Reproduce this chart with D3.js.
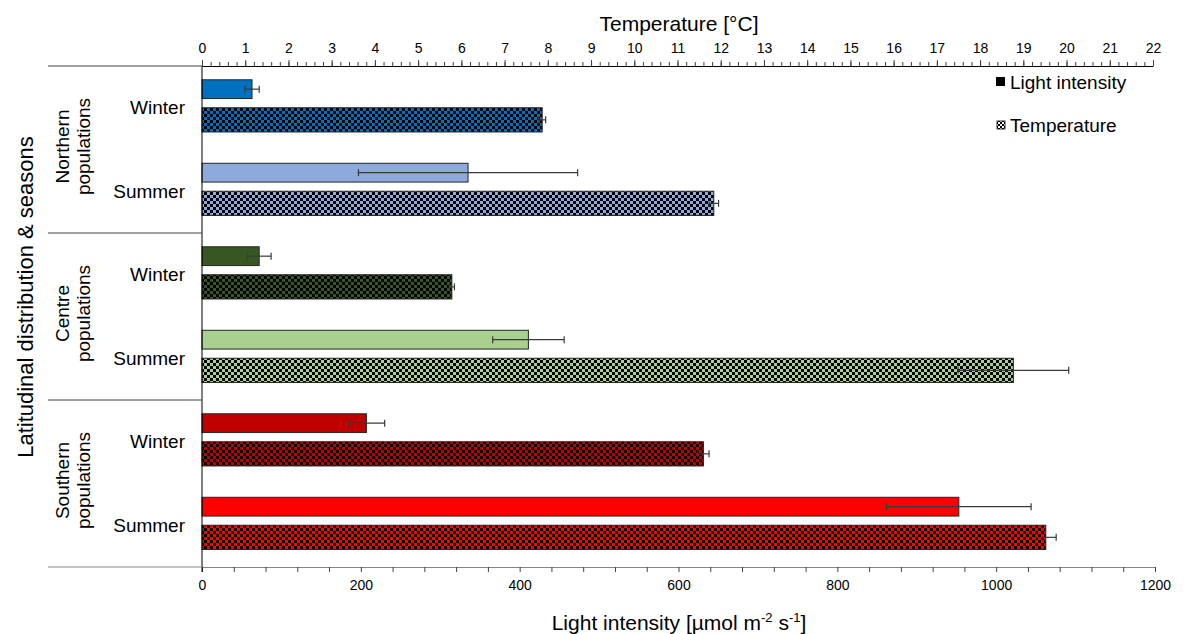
<!DOCTYPE html>
<html>
<head>
<meta charset="utf-8">
<script src="https://cdn.jsdelivr.net/npm/d3@7"></script>
<style>
  body { margin: 0; background: #fff; }
  svg text { font-family: "Liberation Sans", Arial, sans-serif; fill: #000; }
</style>
</head>
<body>
<div id="chart"></div>
<script>
// data
var groups = ["Northern populations", "Centre populations", "Southern populations"];
var seasons = ["Winter", "Summer"];
var lightMean = [63, 335, 72, 411, 207, 953];
var lightErr = [9, 138, 15, 45, 23, 91];
var tempMean = [7.87, 11.84, 5.78, 18.77, 11.6, 19.52];
var tempErr = [0.08, 0.11, 0.06, 1.28, 0.13, 0.24];
var barColors = ["#0070C0", "#8EA9DB", "#375623", "#A9D08E", "#C00000", "#FF0000"];
var lightTicks = [0, 200, 400, 600, 800, 1000, 1200];

function draw_chart() {
    var W = 1186, H = 634;
    var margin = {top: 66, right: 31, bottom: 67, left: 202};

    var rows = [];
    groups.forEach(function(g, gi) {
        seasons.forEach(function(s, si) {
            var i = gi * 2 + si;
            rows.push({key: g + "|" + s, group: g, season: s,
                       light: lightMean[i], lightErr: lightErr[i],
                       temp: tempMean[i], tempErr: tempErr[i],
                       color: barColors[i], idx: i});
        });
    });

    var svg = d3.select("#chart").append("svg")
        .attr("width", W)
        .attr("height", H);

    var defs = svg.append("defs");
    rows.forEach(function(r) {
        var p = defs.append("pattern")
            .attr("id", "chk" + r.idx)
            .attr("patternUnits", "userSpaceOnUse")
            .attr("width", 6).attr("height", 6);
        p.append("rect").attr("width", 6).attr("height", 6).attr("fill", r.color);
        p.append("rect").attr("width", 3).attr("height", 3).attr("fill", "#000");
        p.append("rect").attr("x", 3).attr("y", 3).attr("width", 3).attr("height", 3).attr("fill", "#000");
    });
    var lp = defs.append("pattern")
        .attr("id", "chkLegend")
        .attr("patternUnits", "userSpaceOnUse")
        .attr("width", 4).attr("height", 4);
    lp.append("rect").attr("width", 4).attr("height", 4).attr("fill", "#fff");
    lp.append("rect").attr("width", 2).attr("height", 2).attr("fill", "#000");
    lp.append("rect").attr("x", 2).attr("y", 2).attr("width", 2).attr("height", 2).attr("fill", "#000");

    var x = d3.scaleLinear().domain([0, 1200]).range([margin.left, W - margin.right]);
    var xt = d3.scaleLinear().domain([0, 22]).range([margin.left, W - 33]);
    var y = d3.scaleBand().domain(rows.map(function(r) { return r.key; }))
        .range([margin.top, H - margin.bottom]);
    var gy = d3.scaleBand().domain(groups).range([margin.top, H - margin.bottom]);
    var bw = y.bandwidth();

    // light bars
    svg.append("g").selectAll("rect").data(rows).enter().append("rect")
        .attr("x", x(0))
        .attr("y", function(d) { return y(d.key) + bw * 0.165; })
        .attr("width", function(d) { return x(d.light) - x(0); })
        .attr("height", bw * 0.225)
        .attr("fill", function(d) { return d.color; })
        .attr("stroke", "#262626").attr("stroke-width", 1);

    // temperature bars
    svg.append("g").selectAll("rect").data(rows).enter().append("rect")
        .attr("x", xt(0))
        .attr("y", function(d) { return y(d.key) + bw * 0.5; })
        .attr("width", function(d) { return xt(d.temp) - xt(0); })
        .attr("height", bw * 0.29)
        .attr("fill", function(d) { return "url(#chk" + d.idx + ")"; })
        .attr("stroke", "#262626").attr("stroke-width", 1);

    // error bars
    var eb = svg.append("g").attr("stroke", "#3a3a3a").attr("stroke-width", 1.2).attr("fill", "none");
    rows.forEach(function(d) {
        var cy1 = y(d.key) + bw * 0.165 + bw * 0.1125;
        var cy2 = y(d.key) + bw * 0.5 + bw * 0.145;
        [[x(d.light - d.lightErr), x(d.light + d.lightErr), cy1],
         [xt(d.temp - d.tempErr), xt(d.temp + d.tempErr), cy2]].forEach(function(e) {
            eb.append("line").attr("x1", e[0]).attr("x2", e[1]).attr("y1", e[2]).attr("y2", e[2]);
            eb.append("line").attr("x1", e[0]).attr("x2", e[0]).attr("y1", e[2] - 3.5).attr("y2", e[2] + 3.5);
            eb.append("line").attr("x1", e[1]).attr("x2", e[1]).attr("y1", e[2] - 3.5).attr("y2", e[2] + 3.5);
        });
    });

    // top temperature axis
    var topMinor = d3.axisTop(xt).tickValues(d3.range(0, 111).map(function(i) { return i / 5; }))
        .tickSize(4).tickFormat("");
    var gMinor = svg.append("g").attr("transform", "translate(0," + margin.top + ")").call(topMinor);
    gMinor.select(".domain").remove();
    gMinor.selectAll("line").attr("stroke", "#404040");
    var topMajor = d3.axisTop(xt).tickValues(d3.range(0, 23)).tickSize(6).tickSizeOuter(0).tickPadding(7)
        .tickFormat(d3.format("d"));
    var gTop = svg.append("g").attr("transform", "translate(0," + margin.top + ")").call(topMajor);
    gTop.select(".domain").attr("stroke", "#000");
    gTop.selectAll("line").attr("stroke", "#404040");
    gTop.selectAll("text").attr("font-size", 14).attr("font-family", "Liberation Sans, Arial, sans-serif");

    // bottom light axis
    var bottom = d3.axisBottom(x).tickValues(d3.range(0, 1201, 40)).tickSize(5).tickSizeOuter(0)
        .tickPadding(8)
        .tickFormat(function(d) { return lightTicks.indexOf(d) >= 0 ? d : ""; });
    var gBot = svg.append("g").attr("transform", "translate(0," + (H - margin.bottom) + ")").call(bottom);
    gBot.select(".domain").attr("stroke", "#868686");
    gBot.selectAll("line").attr("stroke", "#404040");
    gBot.selectAll("text").attr("font-size", 14).attr("font-family", "Liberation Sans, Arial, sans-serif");

    // left vertical axis line and group separators
    svg.append("line").attr("x1", x(0)).attr("x2", x(0))
        .attr("y1", margin.top).attr("y2", H - margin.bottom + 5)
        .attr("stroke", "#000");
    var seps = groups.map(function(g) { return gy(g); }).concat([H - margin.bottom]);
    svg.append("g").selectAll("line").data(seps).enter().append("line")
        .attr("x1", 48).attr("x2", x(0))
        .attr("y1", function(d) { return d; }).attr("y2", function(d) { return d; })
        .attr("stroke", function(d, i) { return i === seps.length - 1 ? "#868686" : "#404040"; });

    // season labels
    svg.append("g").selectAll("text").data(rows).enter().append("text")
        .attr("x", 185)
        .attr("y", function(d) { return y(d.key) + bw * 0.5; })
        .attr("dy", "0.35em")
        .attr("text-anchor", "end")
        .attr("font-size", 19)
        .text(function(d) { return d.season; });

    // group labels (rotated, two lines)
    groups.forEach(function(g) {
        var cy = gy(g) + gy.bandwidth() / 2 - 3;
        var parts = g.split(" ");
        var t = svg.append("text")
            .attr("transform", "translate(73," + cy + ") rotate(-90)")
            .attr("text-anchor", "middle")
            .attr("font-size", 19);
        t.append("tspan").attr("x", 0).attr("dy", "-0.2em").text(parts[0]);
        t.append("tspan").attr("x", 0).attr("dy", "1.08em").text(parts[1]);
    });

    // axis titles
    svg.append("text")
        .attr("transform", "translate(33,297) rotate(-90)")
        .attr("text-anchor", "middle")
        .attr("font-size", 22)
        .text("Latitudinal distribution & seasons");

    svg.append("text")
        .attr("x", 679).attr("y", 31)
        .attr("text-anchor", "middle")
        .attr("font-size", 21)
        .text("Temperature [°C]");

    var bt = svg.append("text")
        .attr("x", 679).attr("y", 630)
        .attr("text-anchor", "middle")
        .attr("font-size", 21);
    bt.append("tspan").text("Light intensity [µmol m");
    bt.append("tspan").attr("font-size", 13).attr("dy", -8).text("-2");
    bt.append("tspan").attr("dy", 8).text(" s");
    bt.append("tspan").attr("font-size", 13).attr("dy", -8).text("-1");
    bt.append("tspan").attr("dy", 8).text("]");

    // legend
    var leg = svg.append("g").attr("transform", "translate(996,82)");
    leg.append("rect").attr("x", 0).attr("y", -5).attr("width", 9).attr("height", 9).attr("fill", "#000");
    leg.append("text").attr("x", 14).attr("y", 0).attr("dy", "0.35em").attr("font-size", 19).text("Light intensity");
    leg.append("rect").attr("x", 1).attr("y", 39).attr("width", 8).attr("height", 8)
        .attr("fill", "url(#chkLegend)").attr("stroke", "#000").attr("stroke-width", 0.8);
    leg.append("text").attr("x", 14).attr("y", 43).attr("dy", "0.35em").attr("font-size", 19).text("Temperature");
}

draw_chart();
</script>
</body>
</html>
